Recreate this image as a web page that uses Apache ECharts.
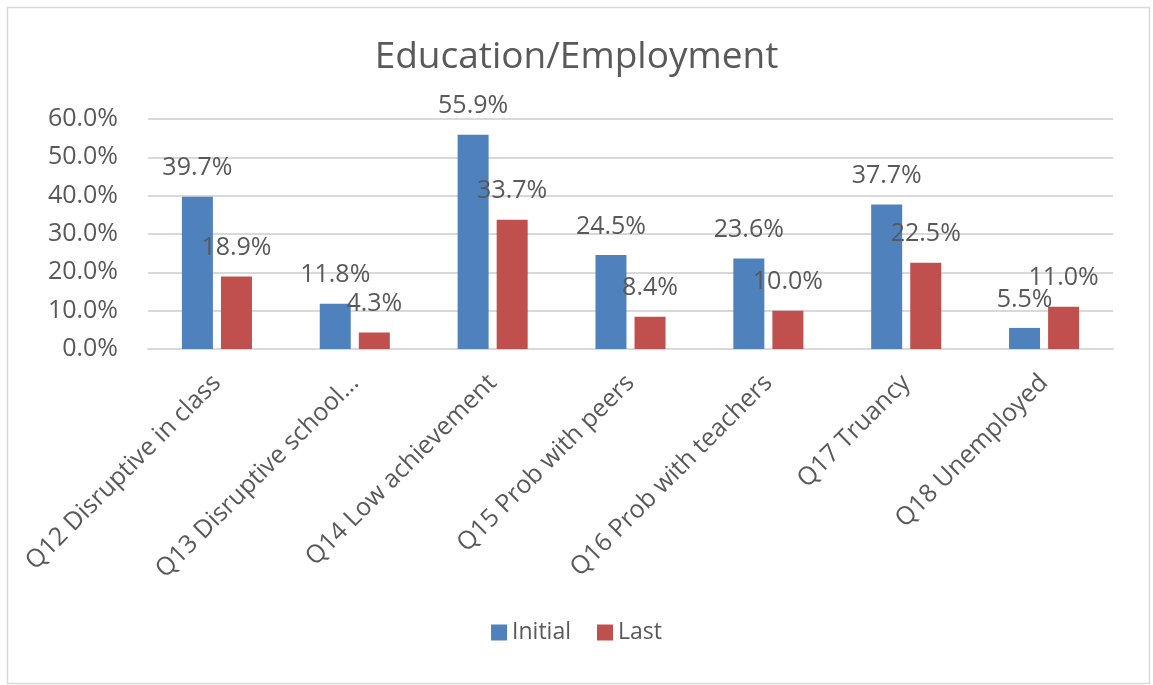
<!DOCTYPE html>
<html>
<head>
<meta charset="utf-8">
<script src="https://cdn.jsdelivr.net/npm/echarts@6/dist/echarts.min.js"></script>
<style>
html,body{margin:0;padding:0;background:#fff;}
#chart{width:1153px;height:685px;}
</style>
</head>
<body>
<div id="chart"></div>
<script>
const categories = ["Q12 Disruptive in class","Q13 Disruptive school...","Q14 Low achievement","Q15 Prob with peers","Q16 Prob with teachers","Q17 Truancy","Q18 Unemployed"];
const initialValues = [39.7, 11.8, 55.9, 24.5, 23.6, 37.7, 5.5];
const lastValues = [18.9, 4.3, 33.7, 8.4, 10.0, 22.5, 11.0];
const yTicks = {min: 0, max: 60, interval: 10};

const font = '"Open Sans", "Liberation Sans", sans-serif';
const chart = echarts.init(document.getElementById('chart'));
const labelCfg = {
  show: true, position: 'top', distance: 16,
  color: '#595959', fontSize: 25, fontFamily: font,
  formatter: p => p.value.toFixed(1) + '%'
};
chart.setOption({
  animation: false,
  backgroundColor: '#fff',
  graphic: [{
    type: 'rect', left: 5, top: 5,
    shape: {width: 1142, height: 676},
    style: {fill: 'none', stroke: '#d9d9d9', lineWidth: 1.5}
  }],
  title: {
    text: 'Education/Employment', left: 'center', top: 34,
    textStyle: {color: '#595959', fontSize: 37, fontWeight: 'normal', fontFamily: font}
  },
  legend: {
    bottom: 36, left: 'center', itemWidth: 16, itemHeight: 16, itemGap: 26,
    icon: 'rect',
    textStyle: {color: '#595959', fontSize: 23, fontFamily: font},
    data: ['Initial', 'Last']
  },
  grid: {left: 148, right: 40, top: 119, bottom: 336, containLabel: false},
  xAxis: {
    type: 'category', data: categories,
    axisLine: {lineStyle: {color: '#d9d9d9', width: 2}},
    axisTick: {show: false},
    axisLabel: {rotate: 45, interval: 0, margin: 30, color: '#595959', fontSize: 25, fontFamily: font}
  },
  yAxis: {
    type: 'value', min: yTicks.min, max: yTicks.max, interval: yTicks.interval,
    axisLine: {show: false}, axisTick: {show: false},
    splitLine: {lineStyle: {color: '#d9d9d9', width: 2}},
    axisLabel: {color: '#595959', fontSize: 25, fontFamily: font, margin: 30,
      formatter: v => v.toFixed(1) + '%'}
  },
  series: [
    {name: 'Initial', type: 'bar', data: initialValues, barWidth: 31, barGap: '26%',
     itemStyle: {color: '#4F81BD'}, label: labelCfg},
    {name: 'Last', type: 'bar', data: lastValues, barWidth: 31,
     itemStyle: {color: '#C0504D'}, label: labelCfg}
  ]
});
</script>
</body>
</html>
